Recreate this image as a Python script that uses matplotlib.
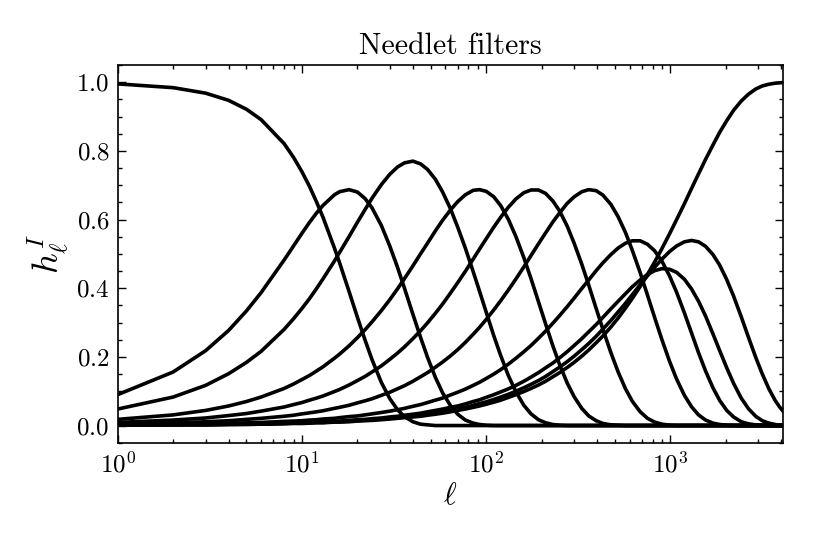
import matplotlib
matplotlib.use("Agg")
import matplotlib.pyplot as plt
from matplotlib.ticker import AutoMinorLocator

ell = [1, 2, 3, 4, 5, 6, 8, 9, 10, 11, 12, 13, 15, 16, 18, 20, 22, 24, 27, 30,
       33, 36, 40, 44, 48, 53, 58, 64, 70, 77, 85, 92, 100, 110, 120, 132, 145,
       160, 175, 192, 210, 230, 250, 275, 300, 330, 360, 395, 430, 475, 520,
       570, 620, 685, 750, 820, 900, 990, 1080, 1190, 1300, 1420, 1550, 1700,
       1850, 2020, 2200, 2420, 2650, 2900, 3150, 3420, 3700, 3900, 4096]

# needlet filters h_l for each band
h1 = [0.995, 0.984, 0.968, 0.947, 0.921, 0.891, 0.821, 0.781, 0.739, 0.696,
      0.651, 0.607, 0.517, 0.474, 0.391, 0.315, 0.249, 0.192, 0.125, 0.078,
      0.046, 0.026, 0.011, 0.004, 0.002] + [0] * 50
h2 = [0.090, 0.156, 0.218, 0.277, 0.334, 0.387, 0.482, 0.523, 0.560, 0.592,
      0.619, 0.641, 0.672, 0.681, 0.687, 0.680, 0.661, 0.634, 0.582, 0.522,
      0.461, 0.400, 0.324, 0.257, 0.199, 0.140, 0.095, 0.058, 0.033, 0.016,
      0.007, 0.003, 0.001] + [0] * 42
h3 = [0.048, 0.083, 0.117, 0.151, 0.184, 0.216, 0.280, 0.311, 0.341, 0.370,
      0.399, 0.427, 0.479, 0.504, 0.550, 0.592, 0.629, 0.662, 0.702, 0.732,
      0.753, 0.765, 0.770, 0.762, 0.746, 0.717, 0.680, 0.631, 0.578, 0.517,
      0.448, 0.391, 0.330, 0.261, 0.203, 0.145, 0.098, 0.059, 0.034, 0.017,
      0.008, 0.003, 0.001] + [0] * 32
h4 = [0.018, 0.031, 0.044, 0.057, 0.070, 0.083, 0.108, 0.121, 0.134, 0.146,
      0.159, 0.171, 0.196, 0.208, 0.232, 0.256, 0.279, 0.302, 0.335, 0.367,
      0.398, 0.428, 0.465, 0.500, 0.531, 0.567, 0.598, 0.628, 0.652, 0.672,
      0.685, 0.687, 0.682, 0.666, 0.640, 0.600, 0.550, 0.489, 0.428, 0.361,
      0.296, 0.232, 0.178, 0.124, 0.084, 0.050, 0.028, 0.014, 0.006, 0.002,
      0.001] + [0] * 24
h5 = [0.009, 0.016, 0.022, 0.029, 0.035, 0.042, 0.054, 0.061, 0.067, 0.074,
      0.080, 0.086, 0.099, 0.105, 0.118, 0.131, 0.143, 0.156, 0.174, 0.193,
      0.211, 0.229, 0.253, 0.276, 0.299, 0.327, 0.354, 0.386, 0.416, 0.449,
      0.485, 0.514, 0.544, 0.578, 0.607, 0.636, 0.660, 0.678, 0.686, 0.686,
      0.676, 0.654, 0.625, 0.581, 0.531, 0.470, 0.409, 0.341, 0.280, 0.212,
      0.156, 0.107, 0.071, 0.040, 0.021, 0.010, 0.004, 0.001] + [0] * 17
h6 = [0.005, 0.008, 0.011, 0.014, 0.018, 0.021, 0.027, 0.030, 0.034, 0.037,
      0.040, 0.043, 0.050, 0.053, 0.059, 0.066, 0.072, 0.078, 0.088, 0.097,
      0.107, 0.116, 0.129, 0.142, 0.154, 0.170, 0.185, 0.203, 0.221, 0.242,
      0.266, 0.286, 0.309, 0.337, 0.364, 0.395, 0.427, 0.462, 0.495, 0.529,
      0.561, 0.593, 0.619, 0.647, 0.666, 0.681, 0.687, 0.684, 0.671, 0.644,
      0.608, 0.562, 0.511, 0.445, 0.380, 0.315, 0.249, 0.186, 0.135, 0.088,
      0.055, 0.031, 0.016, 0.007, 0.003, 0.001] + [0] * 9
h7 = [0.002, 0.003, 0.005, 0.006, 0.008, 0.009, 0.012, 0.013, 0.014, 0.016,
      0.017, 0.019, 0.021, 0.023, 0.026, 0.028, 0.031, 0.034, 0.038, 0.042,
      0.046, 0.050, 0.056, 0.061, 0.067, 0.074, 0.080, 0.089, 0.097, 0.106,
      0.117, 0.126, 0.137, 0.150, 0.163, 0.179, 0.196, 0.215, 0.233, 0.254,
      0.275, 0.298, 0.320, 0.346, 0.371, 0.399, 0.424, 0.451, 0.474, 0.498,
      0.517, 0.531, 0.538, 0.538, 0.528, 0.509, 0.478, 0.435, 0.388, 0.328,
      0.270, 0.212, 0.159, 0.110, 0.073, 0.044, 0.025, 0.011, 0.005, 0.002,
      0.001] + [0] * 4
h8 = [0.001, 0.002, 0.003, 0.004, 0.004, 0.005, 0.007, 0.008, 0.009, 0.009,
      0.010, 0.011, 0.013, 0.013, 0.015, 0.017, 0.018, 0.020, 0.022, 0.025,
      0.027, 0.030, 0.033, 0.036, 0.040, 0.044, 0.048, 0.053, 0.057, 0.063,
      0.070, 0.075, 0.082, 0.090, 0.098, 0.107, 0.117, 0.129, 0.141, 0.154,
      0.168, 0.182, 0.197, 0.215, 0.233, 0.253, 0.273, 0.294, 0.315, 0.340,
      0.362, 0.384, 0.404, 0.424, 0.440, 0.451, 0.457, 0.455, 0.446, 0.426,
      0.398, 0.362, 0.319, 0.267, 0.218, 0.168, 0.123, 0.080, 0.049, 0.027,
      0.014, 0.007, 0.003, 0.001, 0.001]
h9 = [0.001, 0.002, 0.002, 0.003, 0.004, 0.004, 0.006, 0.007, 0.007, 0.008,
      0.009, 0.009, 0.011, 0.011, 0.013, 0.014, 0.016, 0.017, 0.019, 0.021,
      0.023, 0.025, 0.028, 0.031, 0.033, 0.037, 0.040, 0.044, 0.049, 0.053,
      0.059, 0.064, 0.069, 0.076, 0.083, 0.091, 0.100, 0.110, 0.120, 0.131,
      0.143, 0.157, 0.170, 0.186, 0.202, 0.221, 0.239, 0.260, 0.281, 0.306,
      0.331, 0.356, 0.381, 0.410, 0.436, 0.461, 0.485, 0.507, 0.523, 0.535,
      0.539, 0.535, 0.522, 0.498, 0.467, 0.425, 0.377, 0.317, 0.257, 0.199,
      0.150, 0.107, 0.073, 0.055, 0.041]
h10 = [0.001, 0.002, 0.002, 0.003, 0.003, 0.004, 0.005, 0.006, 0.006, 0.007,
       0.008, 0.008, 0.010, 0.010, 0.011, 0.013, 0.014, 0.015, 0.017, 0.019,
       0.021, 0.023, 0.025, 0.027, 0.030, 0.033, 0.036, 0.040, 0.044, 0.048,
       0.053, 0.057, 0.062, 0.068, 0.074, 0.082, 0.090, 0.099, 0.108, 0.118,
       0.129, 0.142, 0.154, 0.169, 0.184, 0.202, 0.220, 0.241, 0.261, 0.287,
       0.313, 0.342, 0.370, 0.405, 0.440, 0.476, 0.516, 0.559, 0.600, 0.646,
       0.690, 0.733, 0.775, 0.817, 0.854, 0.888, 0.918, 0.945, 0.965, 0.980,
       0.989, 0.994, 0.997, 0.998, 0.999]

filters = [h1, h2, h3, h4, h5, h6, h7, h8, h9, h10]

# computer modern look
plt.rcParams["font.family"] = "serif"
plt.rcParams["font.serif"] = ["cmr10"]
plt.rcParams["mathtext.fontset"] = "cm"
plt.rcParams["axes.formatter.use_mathtext"] = True
plt.rcParams["axes.unicode_minus"] = False
plt.rcParams["font.size"] = 18

fig = plt.figure(figsize=(8.14, 5.43), dpi=100)
ax = fig.add_axes([0.1446, 0.1847, 0.8177, 0.6956])

for h in filters:
    ax.plot(ell, h, color="black", lw=2.6, solid_joinstyle="round")

ax.set_xscale("log")
ax.set_xlim(1, 4096)
ax.set_ylim(-0.05, 1.05)
ax.yaxis.set_minor_locator(AutoMinorLocator(4))

ax.tick_params(which="both", direction="in", top=True, right=True, width=1.0)
ax.tick_params(which="major", length=5.5, pad=6)
ax.tick_params(which="minor", length=3)
for sp in ax.spines.values():
    sp.set_linewidth(1.2)

ax.set_title("Needlet filters", fontsize=21.5, pad=8)
ax.set_xlabel(r"$\ell$", fontsize=22)
ax.set_ylabel(r"$h_\ell^I$", fontsize=26)

fig.savefig("out.png", dpi=100)
